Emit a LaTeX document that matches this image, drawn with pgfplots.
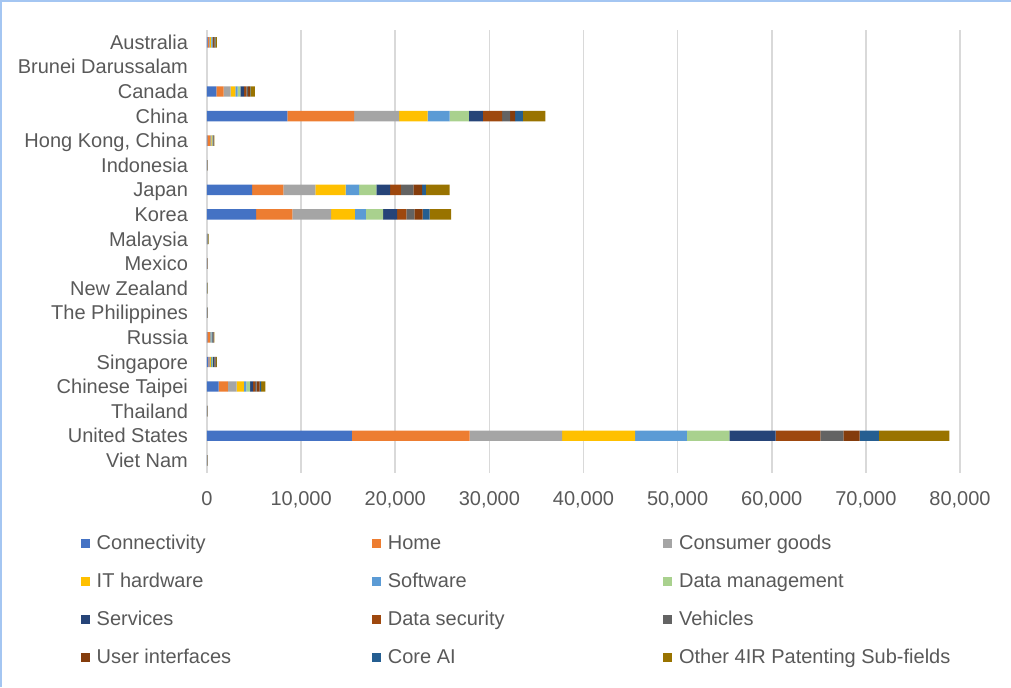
\documentclass[border=0pt]{standalone}
\usepackage{pgfplots}
\pgfplotsset{compat=1.18}
\usepackage{pgfplotstable}
\usepackage{fontspec}
\setmainfont{Liberation Sans}
\definecolor{cConn}{HTML}{4472C4}
\definecolor{cHome}{HTML}{ED7D31}
\definecolor{cCons}{HTML}{A5A5A5}
\definecolor{cIT}{HTML}{FFC000}
\definecolor{cSoft}{HTML}{5B9BD5}
\definecolor{cData}{HTML}{A9D18E}
\definecolor{cServ}{HTML}{264478}
\definecolor{cSec}{HTML}{9E480E}
\definecolor{cVeh}{HTML}{636363}
\definecolor{cUI}{HTML}{843C0C}
\definecolor{cCore}{HTML}{255E91}
\definecolor{cOther}{HTML}{997300}
\definecolor{textgray}{HTML}{595959}
\definecolor{gridgray}{HTML}{D9D9D9}
\definecolor{framebl}{HTML}{A4C6F2}
% y: 17 = Australia (top) ... 0 = Viet Nam (bottom)
\pgfplotstableread{
y  conn  home  cons  ith  soft  data  serv  dsec  veh  ui   core  other
17 60    150   100   90   80    90    80    100   60   40   50    150
16 0     0     0     0    0     0     0     0     0    0    0     0
15 990   780   745   500  250   280   390   250   180  180  70    460
14 8540  7100  4770  3040 2330  2050  1480  2050  850  530  810   2400
13 40    300   100   60   50    40    30    40    30   20   20    60
12 2     2     2     2    2     2     2     2     2    1    1     3
11 4800  3320  3390  3210 1450  1835  1450  1130  1340 920  420   2510
10 5220  3850  4130  2510 1165  1835  1480  990   850  880  740   2290
9  10    15    15    10   10    10    10    10    10   5    5     50
8  10    10    10    5    5     5     5     5     5    2    2     10
7  5     5     5     5    5     5     5     5     3    2    2     8
6  3     3     3     3    3     3     3     2     2    1    1     5
5  50    250   100   40   60    50    40    50    40   30   20    60
4  150   80    100   120  100   80    150   80    50   30   40    80
3  1240  990   920   780  250   390   320   210   180  320  140   460
2  2     2     2     2    2     2     2     2     2    1    1     3
1  15400 12500 9830  7750 5510  4520  4890  4780  2440 1720 2030  7490
0  1     1     1     1    1     1     1     1     1    1    1     1
}\datatable
\newcommand{\legtxt}[1]{\makebox[141pt][l]{\hspace{3.3pt}#1}}
\begin{document}
\begin{tikzpicture}
\path[use as bounding box] (-103.5pt,-107.2pt) rectangle (402pt,236.3pt);
\draw[framebl, line width=1pt] (-103pt,-107.2pt) -- (-103pt,235.8pt) -- (402pt,235.8pt);
\begin{axis}[
  scale only axis, width=376.5pt, height=221.3pt,
  xbar stacked, bar width=5.2pt,
  xmin=0, xmax=80000, ymin=-0.5, ymax=17.5,
  axis lines*=left,
  x axis line style={draw=none},
  y axis line style={-, draw=gridgray, line width=1pt},
  xmajorgrids, grid style={draw=gridgray, line width=0.8pt},
  major tick length=0pt,
  xtick={0,10000,...,80000},
  scaled x ticks=false,
  /pgf/number format/.cd, 1000 sep={,}, assume math mode=true, /pgfplots/.cd,
  ytick={0,...,17},
  yticklabels={Viet Nam, United States, Thailand, Chinese Taipei, Singapore, Russia, The Philippines, New Zealand, Mexico, Malaysia, Korea, Japan, Indonesia, {Hong Kong, China}, China, Canada, Brunei Darussalam, Australia},
  ticklabel style={font=\fontsize{10}{12}\selectfont, text=textgray},
  xticklabel style={yshift=-6pt},
  yticklabel style={xshift=-6pt, yshift=-1pt, text height=7.2pt, text depth=2.1pt},
  legend columns=3,
  legend cell align=left,
  legend style={at={(axis description cs:-0.168,-0.138)}, anchor=north west, draw=none, fill=none, inner sep=0pt,
    font=\fontsize{10}{12}\selectfont, text=textgray, row sep=9.5pt,
    nodes={inner sep=0pt, text height=7.5pt, text depth=2pt}},
  legend image code/.code={\fill[#1] (0pt,-2.3pt) rectangle (4.6pt,2.3pt);},
]
\addplot[fill=cConn, draw=none] table[x=conn, y=y] {\datatable};
\addplot[fill=cHome, draw=none] table[x=home, y=y] {\datatable};
\addplot[fill=cCons, draw=none] table[x=cons, y=y] {\datatable};
\addplot[fill=cIT, draw=none] table[x=ith, y=y] {\datatable};
\addplot[fill=cSoft, draw=none] table[x=soft, y=y] {\datatable};
\addplot[fill=cData, draw=none] table[x=data, y=y] {\datatable};
\addplot[fill=cServ, draw=none] table[x=serv, y=y] {\datatable};
\addplot[fill=cSec, draw=none] table[x=dsec, y=y] {\datatable};
\addplot[fill=cVeh, draw=none] table[x=veh, y=y] {\datatable};
\addplot[fill=cUI, draw=none] table[x=ui, y=y] {\datatable};
\addplot[fill=cCore, draw=none] table[x=core, y=y] {\datatable};
\addplot[fill=cOther, draw=none] table[x=other, y=y] {\datatable};
\legend{\legtxt{Connectivity}, \legtxt{Home}, \legtxt{Consumer goods}, \legtxt{IT hardware}, \legtxt{Software}, \legtxt{Data management}, \legtxt{Services}, \legtxt{Data security}, \legtxt{Vehicles}, \legtxt{User interfaces}, \legtxt{Core AI}, \legtxt{Other 4IR Patenting Sub-fields}}
\end{axis}
\end{tikzpicture}
\end{document}
